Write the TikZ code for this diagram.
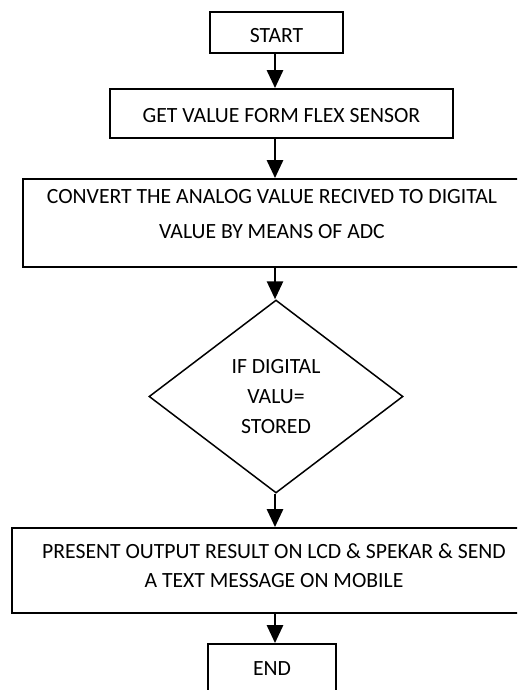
\documentclass[tikz,border=0pt]{standalone}
\usepackage{fontspec}
\setmainfont{Carlito}
\usetikzlibrary{shapes.geometric, arrows.meta}

\begin{document}
\begin{tikzpicture}[x=1pt, y=-1pt,
    box/.style={draw, line width=1.8pt, inner sep=0pt, align=center, font=\fontsize{21.7}{35}\selectfont},
    decision/.style={draw, diamond, line width=1.5pt, inner sep=0pt, align=center, font=\fontsize{21.7}{30}\selectfont},
    flow/.style={line width=2.8pt, -{Triangle[length=18pt, width=16pt]}}]
  \useasboundingbox (0,0) rectangle (517,690);
  \clip (0,0) rectangle (517,690);
  \coordinate (spine) at (275,0);

  % Boxes, top to bottom
  \node[box, minimum width=133pt, text height=31pt, text depth=10pt] (start) at (276.5,32.5) {START};
  \node[box, minimum width=343pt, text height=33pt, text depth=16pt] (get) at (281.5,113.5) {GET VALUE FORM FLEX SENSOR};
  \node[box, minimum width=498pt, text height=59pt, text depth=29pt] (convert) at (272,223) {
    CONVERT THE ANALOG VALUE RECIVED TO DIGITAL\\
    VALUE BY MEANS OF ADC
  };
  \node[decision, minimum width=254pt, minimum height=193pt] (check) at (276,396.5) {
    IF DIGITAL\\VALU=\\STORED
  };
  \node[box, minimum width=524pt, text height=59pt, text depth=26pt, font=\fontsize{21.7}{29}\selectfont] (present) at (274,570.5) {
    PRESENT OUTPUT RESULT ON LCD \& SPEKAR \& SEND\\
    A TEXT MESSAGE ON MOBILE
  };
  \node[box, minimum width=128pt, text height=31pt, text depth=25pt] (end) at (272,672) {END};

  % Arrows down the middle
  \draw[flow] (start.south -| spine) -- (get.north -| spine);
  \draw[flow] (get.south -| spine) -- (convert.north -| spine);
  \draw[flow] (convert.south -| spine) -- (check.north -| spine);
  \draw[flow] (check.south -| spine) -- (present.north -| spine);
  \draw[flow] (present.south -| spine) -- (end.north -| spine);
\end{tikzpicture}
\end{document}
